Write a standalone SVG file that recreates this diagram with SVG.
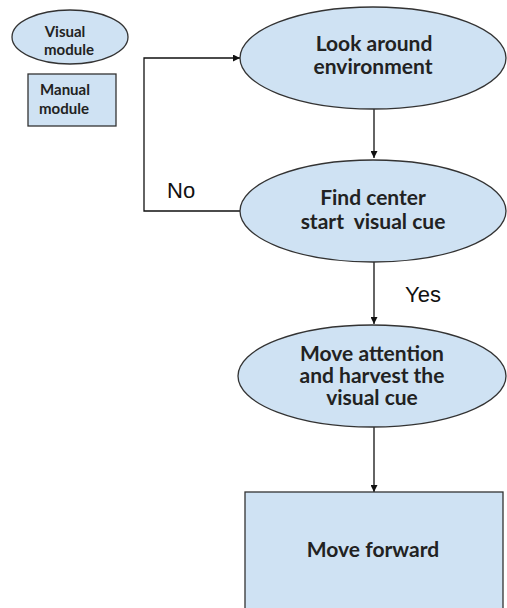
<svg xmlns="http://www.w3.org/2000/svg" width="507" height="608" viewBox="0 0 507 608">
<style>
.node{fill:#cfe2f3;stroke:#333;stroke-width:1.3}
.t{font-family:Lato,"Liberation Sans",sans-serif;font-weight:bold;fill:#222;text-anchor:middle}
.big{font-size:21px}
.small{font-size:15px}
.lbl{font-family:"Liberation Sans",Arial,sans-serif;font-size:22px;fill:#111}
.edge{fill:none;stroke:#111;stroke-width:1.3}
</style>
<defs>
<marker id="ah" viewBox="0 0 10 10" refX="10" refY="5" markerWidth="7" markerHeight="7" markerUnits="userSpaceOnUse" orient="auto">
<path d="M0,0 L10,5 L0,10 z" fill="#111"/>
</marker>
</defs>
<rect width="507" height="608" fill="#ffffff"/>
<g id="legend-visual">
<ellipse class="node" cx="70" cy="37" rx="58" ry="27"/>
<text class="t small" x="65" y="37">Visual</text>
<text class="t small" x="69" y="55">module</text>
</g>
<g id="legend-manual">
<rect class="node" x="28" y="74" width="88" height="52"/>
<text class="t small" x="65" y="95">Manual</text>
<text class="t small" x="64" y="114">module</text>
</g>
<g id="connectors">
<path class="edge" d="M374,109 V158" marker-end="url(#ah)"/>
<path class="edge" d="M240,211 H144 V58 H240" marker-end="url(#ah)"/>
<path class="edge" d="M374,262 V324" marker-end="url(#ah)"/>
<path class="edge" d="M374,427 V492" marker-end="url(#ah)"/>
<text class="lbl" x="167" y="198">No</text>
<text class="lbl" x="405" y="302">Yes</text>
</g>
<g id="look-around">
<ellipse class="node" cx="373" cy="58" rx="133" ry="51"/>
<text class="t big" x="374" y="51">Look around</text>
<text class="t big" x="373" y="74">environment</text>
</g>
<g id="find-center">
<ellipse class="node" cx="373" cy="211" rx="133" ry="51"/>
<text class="t big" x="373" y="205">Find center</text>
<text class="t big" x="373" y="229" xml:space="preserve">start  visual cue</text>
</g>
<g id="move-attention">
<ellipse class="node" cx="372" cy="376" rx="134" ry="51"/>
<text class="t big" x="372" y="361">Move attention</text>
<text class="t big" x="372" y="383">and harvest the</text>
<text class="t big" x="372" y="405">visual cue</text>
</g>
<g id="move-forward">
<rect class="node" x="245" y="492" width="258" height="130"/>
<text class="t big" x="373" y="557">Move forward</text>
</g>
</svg>
